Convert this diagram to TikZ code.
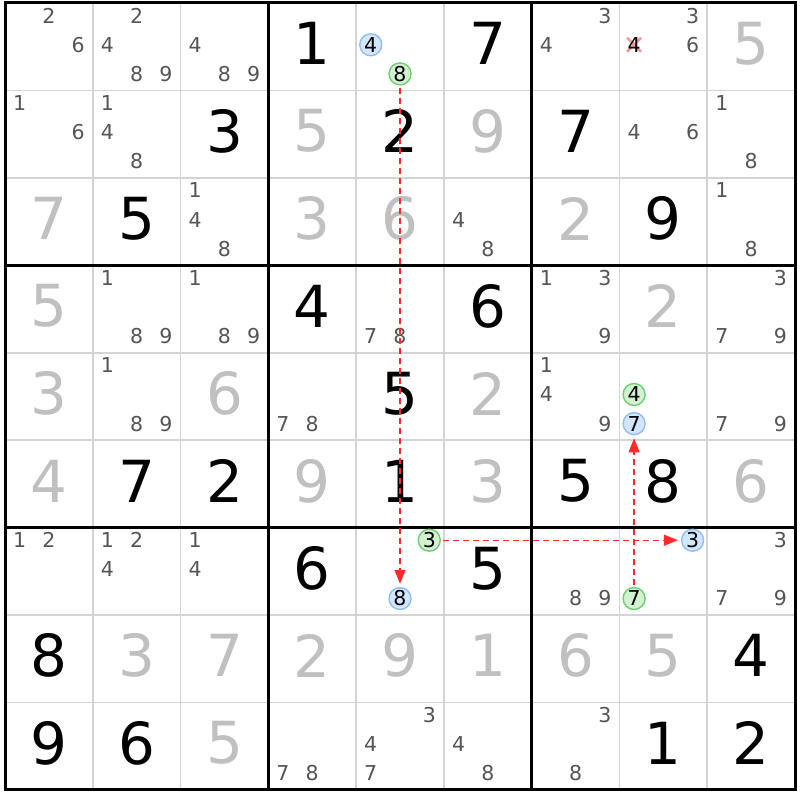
\documentclass[tikz,border=0pt]{standalone}
\usepackage{fontspec}
\setmainfont{DejaVu Sans}
\usetikzlibrary{arrows.meta}
\definecolor{candgray}{HTML}{555555}
\definecolor{solvgray}{HTML}{C0C0C0}
\definecolor{thingray}{HTML}{D4D4D4}
\definecolor{bluefill}{HTML}{D2E6FF}
\definecolor{bluedraw}{HTML}{8FBFF2}
\definecolor{greenfill}{HTML}{D2F2D2}
\definecolor{greendraw}{HTML}{6ECF6E}
\definecolor{linkred}{HTML}{FF2A2A}
\definecolor{crossred}{HTML}{F59A9A}
\tikzset{
  cand/.style={inner sep=0pt, text=candgray, font=\fontsize{20.5}{24}\selectfont},
  givendig/.style={inner sep=0pt, text=black, font=\fontsize{58}{60}\selectfont},
  solveddig/.style={inner sep=0pt, text=solvgray, font=\fontsize{58}{60}\selectfont},
  bluecirc/.style={circle, draw=bluedraw, fill=bluefill, line width=1.4pt, minimum size=22pt, inner sep=0pt, text=black, font=\fontsize{20.5}{24}\selectfont},
  greencirc/.style={circle, draw=greendraw, fill=greenfill, line width=1.4pt, minimum size=22pt, inner sep=0pt, text=black, font=\fontsize{20.5}{24}\selectfont},
  link/.style={draw=linkred, line width=1.3pt, dash pattern=on 6pt off 4pt, -{Triangle[length=14pt,width=11pt]}, shorten <=2pt, shorten >=3pt},
  thinline/.style={draw=thingray, line width=1.8pt},
  thickline/.style={draw=black, line width=3pt},
}
\def\CW{87.78}
\def\CH{87.44}
\newcommand\candpos[3]{%
  \pgfmathsetmacro\cx{5+(#2-1)*\CW+\CW*(2*mod(#3-1,3)+1)/6}%
  \pgfmathsetmacro\cy{3+(#1-1)*\CH+\CH*(2*floor((#3-1)/3)+1)/6-2}%
}
\newcommand\cand[3]{\candpos{#1}{#2}{#3}\node[cand] (k#1#2#3) at (\cx,\cy) {#3};}
\newcommand\cands[3]{\foreach \dd in {#3} {\cand{#1}{#2}{\dd}}}
\newcommand\cellpos[2]{%
  \pgfmathsetmacro\cx{5+(#2-0.5)*\CW}%
  \pgfmathsetmacro\cy{3+(#1-0.5)*\CH-3}%
}
\newcommand\given[3]{\cellpos{#1}{#2}\node[givendig] (g#1#2) at (\cx,\cy) {#3};}
\newcommand\solved[3]{\cellpos{#1}{#2}\node[solveddig] (s#1#2) at (\cx,\cy) {#3};}
\begin{document}
\begin{tikzpicture}[x=1pt,y=-1pt]
\useasboundingbox (0,0) rectangle (800,800);
\fill[white] (0,0) rectangle (800,800);
% thin grid lines
\foreach \i in {1,2,4,5,7,8} {
  \draw[thinline] (5+\i*\CW,3) -- (5+\i*\CW,3+9*\CH);
  \draw[thinline] (5,3+\i*\CH) -- (5+9*\CW,3+\i*\CH);
}
% thick lines
\foreach \i in {3,6} {
  \draw[thickline] (5+\i*\CW,3) -- (5+\i*\CW,3+9*\CH);
  \draw[thickline] (5,3+\i*\CH) -- (5+9*\CW,3+\i*\CH);
}
\draw[thickline] (5,3) rectangle (5+9*\CW,3+9*\CH);

% Row 1
\cands{1}{1}{2,6}
\cands{1}{2}{2,4,8,9}
\cands{1}{3}{4,8,9}
\given{1}{4}{1}
\candpos{1}{5}{4}\node[bluecirc] (b154) at (\cx,\cy) {4};
\candpos{1}{5}{8}\node[greencirc] (e158) at (\cx,\cy) {8};
\given{1}{6}{7}
\cands{1}{7}{3,4}
\cands{1}{8}{3,6}
\candpos{1}{8}{4}
\draw[crossred, line width=2.6pt] (\cx-7,\cy-7) -- (\cx+7,\cy+7) (\cx-7,\cy+7) -- (\cx+7,\cy-7);
\node[cand, text=black] (k184) at (\cx,\cy) {4};
\solved{1}{9}{5}

% Row 2
\cands{2}{1}{1,6}
\cands{2}{2}{1,4,8}
\given{2}{3}{3}
\solved{2}{4}{5}
\given{2}{5}{2}
\solved{2}{6}{9}
\given{2}{7}{7}
\cands{2}{8}{4,6}
\cands{2}{9}{1,8}

% Row 3
\solved{3}{1}{7}
\given{3}{2}{5}
\cands{3}{3}{1,4,8}
\solved{3}{4}{3}
\solved{3}{5}{6}
\cands{3}{6}{4,8}
\solved{3}{7}{2}
\given{3}{8}{9}
\cands{3}{9}{1,8}

% Row 4
\solved{4}{1}{5}
\cands{4}{2}{1,8,9}
\cands{4}{3}{1,8,9}
\given{4}{4}{4}
\cands{4}{5}{7,8}
\given{4}{6}{6}
\cands{4}{7}{1,3,9}
\solved{4}{8}{2}
\cands{4}{9}{3,7,9}

% Row 5
\solved{5}{1}{3}
\cands{5}{2}{1,8,9}
\solved{5}{3}{6}
\cands{5}{4}{7,8}
\given{5}{5}{5}
\solved{5}{6}{2}
\cands{5}{7}{1,4,9}
\candpos{5}{8}{4}\node[greencirc] (e584) at (\cx,\cy) {4};
\candpos{5}{8}{7}\node[bluecirc] (b587) at (\cx,\cy) {7};
\cands{5}{9}{7,9}

% Row 6
\solved{6}{1}{4}
\given{6}{2}{7}
\given{6}{3}{2}
\solved{6}{4}{9}
\given{6}{5}{1}
\solved{6}{6}{3}
\given{6}{7}{5}
\given{6}{8}{8}
\solved{6}{9}{6}

% Row 7
\cands{7}{1}{1,2}
\cands{7}{2}{1,2,4}
\cands{7}{3}{1,4}
\given{7}{4}{6}
\candpos{7}{5}{3}\node[greencirc] (e753) at (\cx,\cy) {3};
\candpos{7}{5}{8}\node[bluecirc] (b758) at (\cx,\cy) {8};
\given{7}{6}{5}
\cands{7}{7}{8,9}
\candpos{7}{8}{3}\node[bluecirc] (b783) at (\cx,\cy) {3};
\candpos{7}{8}{7}\node[greencirc] (e787) at (\cx,\cy) {7};
\cands{7}{9}{3,7,9}

% Row 8
\given{8}{1}{8}
\solved{8}{2}{3}
\solved{8}{3}{7}
\solved{8}{4}{2}
\solved{8}{5}{9}
\solved{8}{6}{1}
\solved{8}{7}{6}
\solved{8}{8}{5}
\given{8}{9}{4}

% Row 9
\given{9}{1}{9}
\given{9}{2}{6}
\solved{9}{3}{5}
\cands{9}{4}{7,8}
\cands{9}{5}{3,4,7}
\cands{9}{6}{4,8}
\cands{9}{7}{3,8}
\given{9}{8}{1}
\given{9}{9}{2}

% links
\draw[link] (e158) -- (b758);
\draw[link] (e753) -- (b783);
\draw[link] (e787) -- (b587);
\end{tikzpicture}
\end{document}
